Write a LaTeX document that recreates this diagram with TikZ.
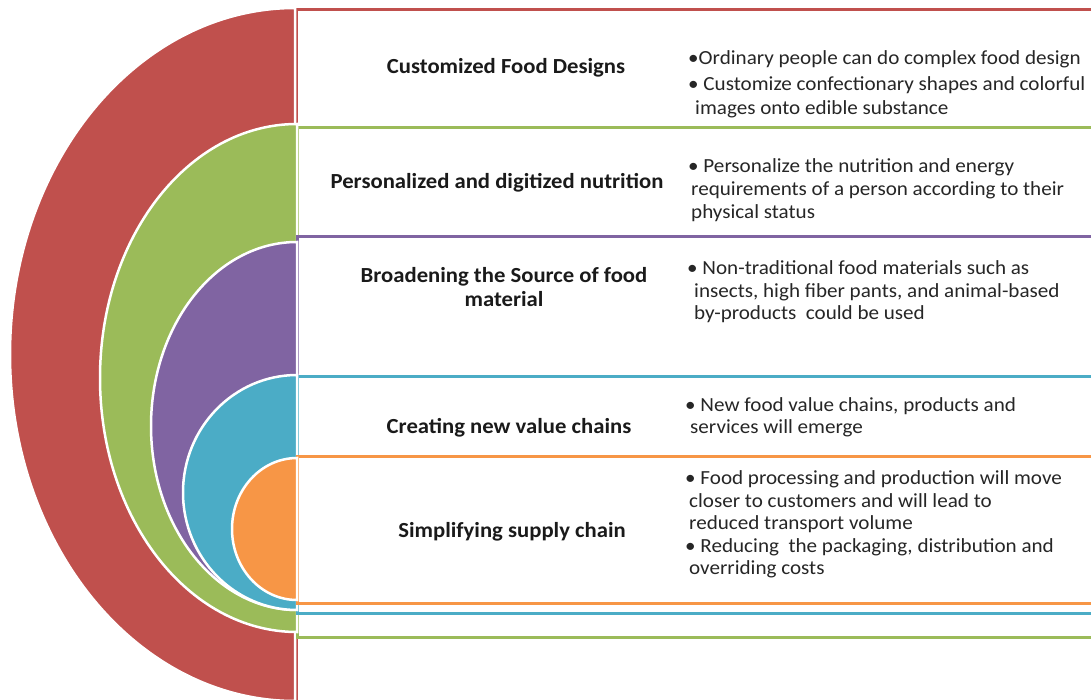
\documentclass[tikz,border=0pt]{standalone}
\usepackage{fontspec}
\setmainfont{Carlito}
\newfontfamily\widefont[FakeStretch=1.055]{Carlito}
\definecolor{cred}{HTML}{C0504D}
\definecolor{cgreen}{HTML}{9BBB59}
\definecolor{cpurple}{HTML}{8064A2}
\definecolor{cteal}{HTML}{4BACC6}
\definecolor{corange}{HTML}{F79646}
\definecolor{txt}{HTML}{1A1A1A}
\definecolor{dtxt}{HTML}{262626}
\begin{document}
\begin{tikzpicture}[x=1pt,y=-1pt,
  band/.style={fill=white, draw=#1, line width=3pt},
  half/.style={fill=#1, draw=white, line width=2.5pt},
  title/.style={font=\widefont\fontsize{21.5}{24}\selectfont\bfseries, text=txt, align=center, inner sep=0pt, anchor=base},
  desc/.style={font=\widefont\fontsize{20}{23}\selectfont, text=dtxt, align=left, inner sep=0pt, anchor=north west}]
\clip (0,0) rectangle (1091,700);
\fill[white] (0,0) rectangle (1091,700);
% red level
\draw[band=cred] (296,10) rectangle (1110,730);
\draw[half=cred] (295,8) arc[start angle=270, end angle=90, x radius=285, y radius=346.5] -- cycle;
% green level
\draw[band=cgreen] (297,128) rectangle (1110,637);
\draw[half=cgreen] (297,124) arc[start angle=270, end angle=90, x radius=197, y radius=254] -- cycle;
% purple level
\draw[band=cpurple] (297,237) rectangle (1110,613);
\draw[half=cpurple] (297,242) arc[start angle=270, end angle=90, x radius=146, y radius=184] -- cycle;
% teal level
\draw[band=cteal] (297,376) rectangle (1110,613);
\draw[half=cteal] (297,375) arc[start angle=270, end angle=90, x radius=114, y radius=117.5] -- cycle;
% orange level
\draw[band=corange] (297,456) rectangle (1110,603);
\draw[half=corange] (297,458) arc[start angle=270, end angle=90, x radius=65, y radius=71] -- cycle;
% titles
\node[title] (t1) at (506,74) {Customized Food Designs};
\node[title] (t2) at (497,189) {Personalized and digitized nutrition};
\node[title, anchor=north] (t3) at (504,267) {Broadening the Source of food\\material};
\node[title] (t4) at (509,433) {Creating new value chains};
\node[title] (t5) at (512,537) {Simplifying supply chain};
% descriptions
\node[desc] (d1) at (688,50) {•Ordinary people can do complex food design\\[3pt]• Customize confectionary shapes and colorful\\[1pt]\hspace{7pt}images onto edible substance};
\node[desc] (d2) at (688,158) {• Personalize the nutrition and energy\\\hspace{3pt}requirements of a person according to their\\\hspace{3pt}physical status};
\node[desc] (d3) at (687,260) {• Non-traditional food materials such as\\\hspace{7pt}insects, high fiber pants, and animal-based\\[-1pt]\hspace{7pt}by-products\ \ could be used};
\node[desc] (d4) at (685,397.5) {• New food value chains, products and\\[-1pt]\hspace{5pt}services will emerge};
\node[desc, font=\widefont\fontsize{20}{22.5}\selectfont] (d5) at (685,470.5) {• Food processing and production will move\\\hspace{4pt}closer to customers and will lead to\\\hspace{4pt}reduced transport volume\\• Reducing\ \ the packaging, distribution and\\\hspace{4pt}overriding costs};
\end{tikzpicture}
\end{document}
